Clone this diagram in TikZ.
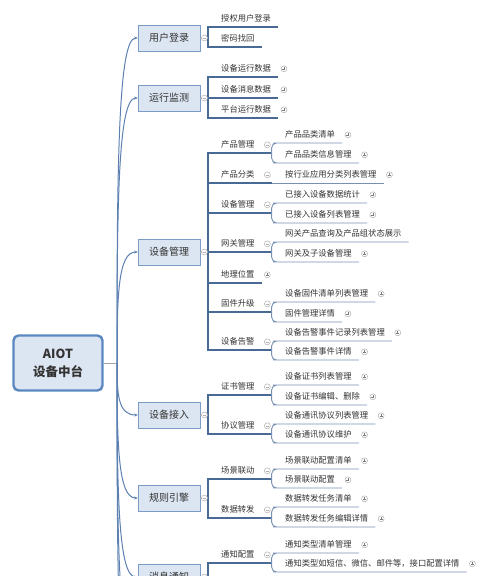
\documentclass[tikz,border=0pt]{standalone}
\usepackage{fontspec}
\setmainfont{Noto Sans CJK SC}
\usetikzlibrary{positioning,arrows.meta}
\definecolor{boxfill}{HTML}{DCE6F2}
\definecolor{boxline}{HTML}{7A9CC6}
\definecolor{rootline}{HTML}{5B87C0}
\definecolor{trunk}{HTML}{5C80B0}
\definecolor{ulblue}{HTML}{4A6A96}
\definecolor{leafline}{HTML}{7891B3}
\definecolor{txt}{HTML}{333333}
\definecolor{knobgray}{HTML}{AFAFAF}

\begin{document}
\begin{tikzpicture}[x=1pt, y=-1pt,
  every node/.style={text=txt},
  rootbox/.style={draw=rootline, line width=2.4pt, rounded corners=5pt, fill=boxfill,
    minimum width=89pt, minimum height=55pt, align=center,
    font=\fontsize{12.5}{18}\selectfont\bfseries},
  topic/.style={draw=boxline, fill=boxfill, minimum width=62pt, minimum height=26pt,
    font=\fontsize{10}{12}\selectfont},
  subtopic/.style={anchor=south west, inner xsep=7pt, inner ysep=4pt, text height=6.5pt,
    text depth=1.5pt, font=\fontsize{8.3}{10}\selectfont},
  trunkline/.style={draw=trunk, line width=1pt, -{Stealth[length=3.5pt,width=3pt]}},
  rootl/.style={draw=gray!70, line width=0.9pt},
  thinl/.style={draw=knobgray, line width=0.8pt},
  uline/.style={draw=ulblue, line width=1.2pt},
  leafl/.style={draw=leafline, line width=0.9pt},
  knob/.style={circle, draw=knobgray, fill=white, line width=0.5pt, minimum size=6pt, inner sep=0pt},
  knobminus/.style={knob, path picture={\draw[knobgray, line width=0.6pt]
    (path picture bounding box.center) +(-1.6pt,0) -- +(1.6pt,0);}},
  knobplus/.style={knob, path picture={\draw[knobgray!70!black, line width=0.6pt]
    (path picture bounding box.center) +(-1.5pt,0) -- +(1.5pt,0)
    (path picture bounding box.center) +(0,-1.5pt) -- +(0,1.5pt);}}]
\useasboundingbox (0,0) rectangle (500,576);
\clip (0,0) rectangle (500,576);

% centre and main topics
\node[rootbox] (root) at (58,363) {AIOT\\设备中台};
\node[topic] (yhdl) at (169,38) {用户登录};
\node[topic] (yxjc) at (169,98) {运行监测};
\node[topic] (sbgl) at (169,252) {设备管理};
\node[topic] (sbjr) at (169,415) {设备接入};
\node[topic] (gzyq) at (169,498) {规则引擎};
\node[topic] (xxtz) at (169,577) {消息通知};

\coordinate (hub) at (117,363);
\coordinate (more1) at (138,650);
\coordinate (more2) at (138,730);
\draw[rootl] (root.east) -- (hub);
\foreach \m/\y in {yhdl/38, yxjc/98, sbgl/252, sbjr/415, gzyq/498, xxtz/577}{
  \pgfmathsetmacro\ya{\y+0.4*(363-\y)}
  \draw[trunkline] (hub) .. controls (117,\ya) and (118,\y) .. (\m.west);
}
\foreach \c/\y in {more1/650, more2/730}{
  \pgfmathsetmacro\ya{\y+0.4*(363-\y)}
  \draw[trunkline] (hub) .. controls (117,\ya) and (118,\y) .. (\c);
}

% level 1 children
\node[subtopic] (sqdl) at (214,27) {授权用户登录};
\node[subtopic] (mmzh) at (214,47) {密码找回};
\node[subtopic] (yxsj) at (214,77) {设备运行数据};
\node[subtopic] (xxsj) at (214,98) {设备消息数据};
\node[subtopic] (ptsj) at (214,118) {平台运行数据};
\node[subtopic] (cpgl) at (214,153) {产品管理};
\node[subtopic] (cpfl) at (214,183) {产品分类};
\node[subtopic] (sbglz) at (214,213) {设备管理};
\node[subtopic] (wggl) at (214,252) {网关管理};
\node[subtopic] (dlwz) at (214,283) {地理位置};
\node[subtopic] (gjsj) at (214,312) {固件升级};
\node[subtopic] (sbgj) at (214,350) {设备告警};
\node[subtopic] (zsgl) at (214,395) {证书管理};
\node[subtopic] (xygl) at (214,434) {协议管理};
\node[subtopic] (cjld) at (214,479) {场景联动};
\node[subtopic] (sjzf) at (214,518) {数据转发};
\node[subtopic] (tzpz) at (214,563) {通知配置};

% level 2 children
\node[subtopic] (plqd) at (278,143) {产品品类清单};
\node[subtopic] (plxx) at (278,163) {产品品类信息管理};
\node[subtopic] (hyfl) at (278,183) {按行业应用分类列表管理};
\node[subtopic] (sjtj) at (278,203) {已接入设备数据统计};
\node[subtopic] (lbgl) at (278,223) {已接入设备列表管理};
\node[subtopic] (wgcx) at (278,242) {网关产品查询及产品组状态展示};
\node[subtopic] (wgzs) at (278,262) {网关及子设备管理};
\node[subtopic] (fwqd) at (278,302) {设备固件清单列表管理};
\node[subtopic] (fwxq) at (278,322) {固件管理详情};
\node[subtopic] (amjl) at (278,341) {设备告警事件记录列表管理};
\node[subtopic] (amxq) at (278,360) {设备告警事件详情};
\node[subtopic] (zslb) at (278,385) {设备证书列表管理};
\node[subtopic] (zsbj) at (278,405) {设备证书编辑、删除};
\node[subtopic] (xylb) at (278,424) {设备通讯协议列表管理};
\node[subtopic] (xywh) at (278,443) {设备通讯协议维护};
\node[subtopic] (ldqd) at (278,469) {场景联动配置清单};
\node[subtopic] (ldpz) at (278,488) {场景联动配置};
\node[subtopic] (zfqd) at (278,507) {数据转发任务清单};
\node[subtopic] (zfxq) at (278,527) {数据转发任务编辑详情};
\node[subtopic] (tzqd) at (278,553) {通知类型清单管理};
\node[subtopic] (tzxq) at (278,572) {通知类型如短信、微信、邮件等，接口配置详情};

% brackets
\foreach \m/\y in {yhdl/38, yxjc/98, sbgl/252, sbjr/415, gzyq/498, xxtz/577}{
  \coordinate (\m-b) at (208,\y);
  \draw[thinl] (\m.east) -- (\m-b);
}
\foreach \n/\m in {sqdl/yhdl, mmzh/yhdl, yxsj/yxjc, xxsj/yxjc, ptsj/yxjc,
    cpgl/sbgl, cpfl/sbgl, sbglz/sbgl, wggl/sbgl, dlwz/sbgl, gjsj/sbgl, sbgj/sbgl,
    zsgl/sbjr, xygl/sbjr, cjld/gzyq, sjzf/gzyq, tzpz/xxtz}
  \draw[uline] (\n.south east) -| (\m-b);
\foreach \n in {cpgl, cpfl, sbglz, wggl, gjsj, sbgj, zsgl, xygl, cjld, sjzf, tzpz}
  \draw[uline] (\n.south east) -- ++(10,0) coordinate (\n-b);
\foreach \l/\p in {plqd/cpgl, plxx/cpgl, sjtj/sbglz, lbgl/sbglz, wgcx/wggl, wgzs/wggl,
    fwqd/gjsj, fwxq/gjsj, amjl/sbgj, amxq/sbgj, zslb/zsgl, zsbj/zsgl, xylb/xygl, xywh/xygl,
    ldqd/cjld, ldpz/cjld, zfqd/sjzf, zfxq/sjzf, tzqd/tzpz, tzxq/tzpz}
  \draw[leafl, rounded corners=5pt] (\l.south east) -- (\l.south west) -| (\p-b);
\draw[leafl] (hyfl.south east) -- (cpfl-b);

% fold knobs
\foreach \m in {yhdl, yxjc, sbgl, sbjr, gzyq, xxtz}
  \node[knobminus, right=1pt of \m] (\m-k) {};
\foreach \n in {cpgl, cpfl, sbglz, wggl, gjsj, sbgj, zsgl, xygl, cjld, sjzf, tzpz}
  \node[knobminus, right=2.5pt of \n] (\n-k) {};
\foreach \n in {yxsj, xxsj, ptsj, dlwz, plqd, plxx, hyfl, sjtj, lbgl, wgzs, fwqd, fwxq,
    amjl, amxq, zslb, zsbj, xylb, xywh, ldqd, ldpz, zfqd, zfxq, tzqd, tzxq}
  \node[knobplus, right=2.5pt of \n] (\n-k) {};
\end{tikzpicture}
\end{document}
